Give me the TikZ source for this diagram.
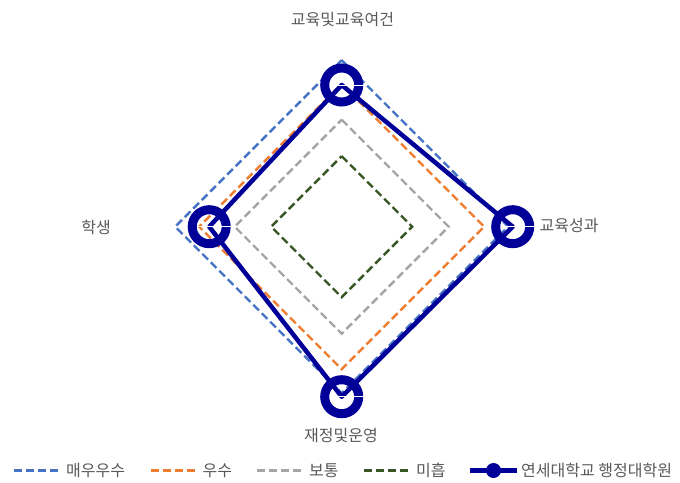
\documentclass[tikz,border=0pt]{standalone}
\usepackage{fontspec}
\setmainfont{Noto Sans CJK KR}
\usepackage{xcolor}
\usetikzlibrary{positioning}
\usetikzlibrary{calc}
\definecolor{mublue}{HTML}{4472C4}
\definecolor{suorange}{HTML}{ED7D31}
\definecolor{bogray}{HTML}{A5A5A5}
\definecolor{mihgreen}{HTML}{375623}
\definecolor{yonsei}{RGB}{0,0,153}
\definecolor{labelgray}{HTML}{595959}
\tikzset{
    dashline/.style={line width=2.4pt, dash pattern=on 8pt off 4pt},
    yonline/.style={yonsei, line width=4.5pt, line join=round},
    ring/.style={yonsei, line width=9pt},
    axislabel/.style={text=labelgray, inner sep=0pt, font=\fontsize{16}{18}\selectfont}
}

\begin{document}
\begin{tikzpicture}[x=1pt,y=1pt]
\useasboundingbox (0,0) rectangle (680,-482);
\coordinate (O) at (341.7,-226.7);
\begin{scope}[shift={(O)}]
% reference levels
\foreach \r/\col in {166.5/mublue, 142.5/suorange, 107/bogray, 70.5/mihgreen}{
    \draw[dashline, \col] (0,\r) -- (\r,0) -- (0,-\r) -- (-\r,0) -- cycle;
}
% data points
\coordinate (top) at (0,141.7);
\coordinate (right) at (171,0);
\coordinate (bottom) at (0,-170);
\coordinate (left) at (-132.5,0);
\draw[yonline] (top) -- (right) -- (bottom) -- (left) -- cycle;
\foreach \p in {top, right, bottom, left}{
    \draw[ring] (\p) circle (17);
    \draw[white, line width=0.8pt] ($(\p)+(-12,0)$) -- ($(\p)+(22,0)$);
}
\end{scope}
% axis labels
\node[axislabel] (lbtop) at (342.5,-19.5) {교육및교육여건};
\node[axislabel, anchor=west] (lbright) at (539.5,-226) {교육성과};
\node[axislabel] (lbleft) at (96,-227) {학생};
\node[axislabel] (lbbottom) at (341,-436) {재정및운영};
% legend
\foreach \x/\col/\nm/\txt in {14/mublue/lgmu/매우우수, 150.5/suorange/lgsu/우수, 257/bogray/lgbo/보통, 364/mihgreen/lgmi/미흡}{
    \coordinate (\nm-a) at (\x,-470.5);
    \coordinate (\nm-b) at (\x+44,-470.5);
    \draw[dashline, \col] (\nm-a) -- (\nm-b);
    \node[axislabel, right=8pt of \nm-b] (\nm-t) {\txt};
}
\coordinate (lgyon-a) at (470,-470.5);
\coordinate (lgyon-b) at (517,-470.5);
\draw[yonline] (lgyon-a) -- (lgyon-b);
\fill[yonsei] ($(lgyon-a)!0.5!(lgyon-b)$) circle (7.5);
\node[axislabel, right=4pt of lgyon-b] (lgyon-t) {연세대학교 행정대학원};
\end{tikzpicture}
\end{document}
